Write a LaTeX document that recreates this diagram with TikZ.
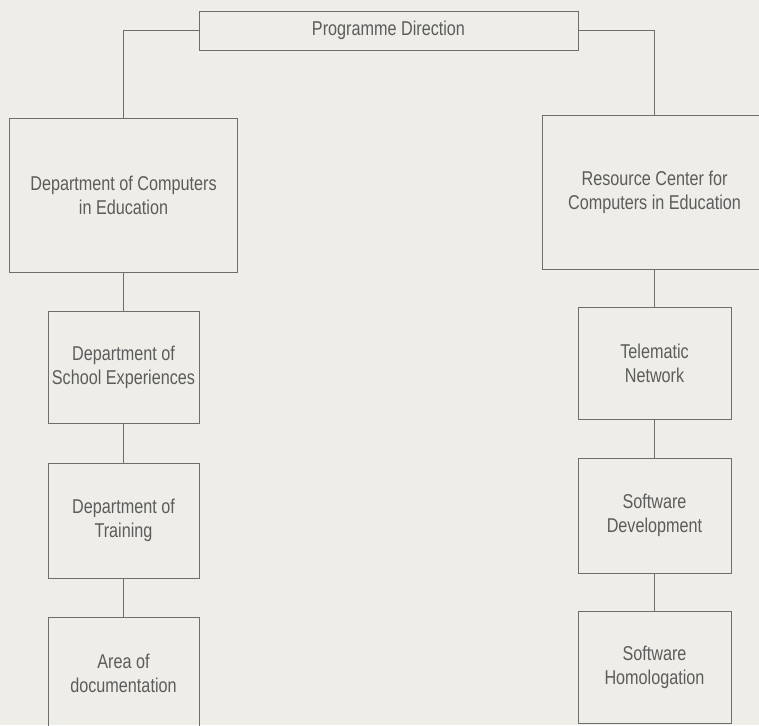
\documentclass[tikz,border=0pt]{standalone}
\usepackage{xcolor}
\usepackage{fontspec}
\setmainfont[FakeStretch=0.81]{Liberation Sans}
\usepackage{tikz}

\definecolor{paper}{HTML}{EEEDE8}
\definecolor{linegray}{HTML}{6E6E6E}
\definecolor{textgray}{HTML}{5C5C5C}

\tikzset{
  unit/.style={draw=linegray, line width=0.8pt, text=textgray, align=center,
    inner sep=0pt, font=\fontsize{20}{24}\selectfont},
  link/.style={draw=linegray, line width=0.8pt}
}

\begin{document}
\begin{tikzpicture}[x=1pt, y=-1pt]
% Page
\fill[paper] (0,0) rectangle (759,725);
\useasboundingbox (0,0) rectangle (759,725);
\clip (0,0) rectangle (759,725);

% Top of the chart
\node[unit, minimum width=379pt, minimum height=39pt] (prog) at (388.5,30.5) {Programme Direction};

% Left branch
\node[unit, minimum width=228pt, minimum height=154pt] (comp) at (123.5,195) {Department of Computers\\in Education};
\node[unit, minimum width=151pt, minimum height=112pt] (schl) at (123.5,367) {Department of\\School Experiences};
\node[unit, minimum width=151pt, minimum height=115pt] (train) at (123.5,520.5) {Department of\\Training};
\node[unit, minimum width=151pt, minimum height=112pt] (docu) at (123.5,673) {Area of\\documentation};

% Right branch
\node[unit, minimum width=224pt, minimum height=154pt] (res) at (654.5,192) {Resource Center for\\Computers in Education};
\node[unit, minimum width=153pt, minimum height=112pt] (tele) at (654.5,363) {Telematic\\Network};
\node[unit, minimum width=153pt, minimum height=115pt] (sdev) at (654.5,515.5) {Software\\Development};
\node[unit, minimum width=153pt, minimum height=112pt] (shom) at (654.5,667) {Software\\Homologation};

% Connectors
\draw[link] (prog.west) -| (comp.north);
\draw[link] (prog.east) -| (res.north);
\foreach \a/\b in {comp/schl, schl/train, train/docu, res/tele, tele/sdev, sdev/shom} {
    \draw[link] (\a.south) -- (\b.north);
}
\end{tikzpicture}
\end{document}
